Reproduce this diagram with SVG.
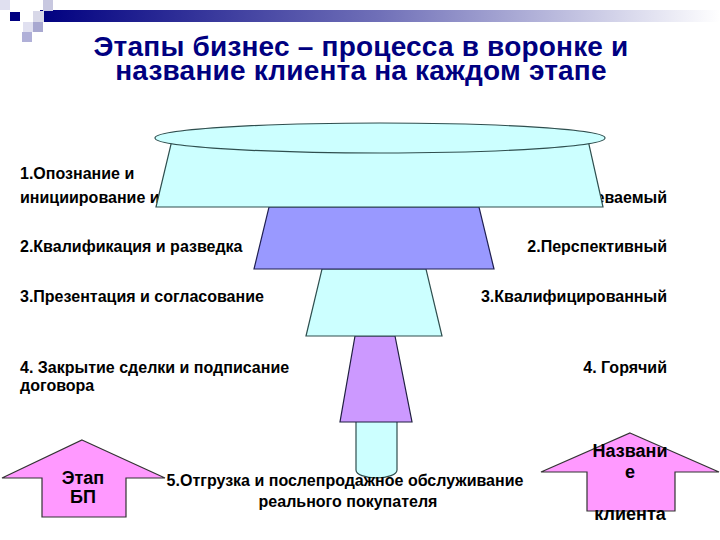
<svg xmlns="http://www.w3.org/2000/svg" width="720" height="540" viewBox="0 0 720 540">
<defs>
<linearGradient id="bar" x1="0" y1="0" x2="1" y2="0">
<stop offset="0" stop-color="#000080"/>
<stop offset="0.5" stop-color="#7070B8"/>
<stop offset="1" stop-color="#FFFFFF"/>
</linearGradient>
<style>
.t{font-family:"Liberation Sans",Arial,sans-serif;font-weight:bold;font-size:16px;fill:#000}
.a{font-size:18px}
.title{font-family:"Liberation Sans",Arial,sans-serif;font-weight:bold;font-size:28px;fill:#000080;text-anchor:middle;letter-spacing:0.2px}
.cy{fill:#CCFFFF;stroke:#2F4F4F;stroke-width:1.2}
.bl{fill:#9999FF;stroke:#1F1F50;stroke-width:1.2}
.lv{fill:#CC99FF;stroke:#1F1F40;stroke-width:1.2}
.ar{fill:#FF99FF;stroke:#333;stroke-width:1.2}
.e{text-anchor:end}
.m{text-anchor:middle}
</style>
</defs>
<rect width="720" height="540" fill="#fff"/>
<g id="header">
<rect x="40" y="10" width="680" height="12" fill="url(#bar)"/>
<rect x="0" y="0" width="10" height="10" fill="#E0E0F0"/>
<rect x="10" y="12" width="10" height="9" fill="#000080"/>
<rect x="43" y="0" width="10" height="11" fill="#C8C8E0"/>
<rect x="33" y="11" width="11" height="11" fill="#D8D8E8"/>
<rect x="23" y="22" width="10" height="10" fill="#E0E0F0"/>
<rect x="33" y="22" width="10" height="10" fill="#A8A8D0"/>
<rect x="22" y="32" width="10" height="10" fill="#B0B0D8"/>
</g>
<g id="title">
<text class="title" x="361" y="56">Этапы бизнес – процесса в воронке  и</text>
<text class="title" x="361" y="80">название клиента на каждом этапе</text>
</g>
<g id="left-labels">
<text class="t" x="20" y="179">1.Опознание и</text>
<text class="t" x="20" y="203">инициирование и</text>
<text class="t" x="20" y="252">2.Квалификация и разведка</text>
<text class="t" x="20" y="302">3.Презентация и согласование</text>
<text class="t" x="20" y="373">4. Закрытие сделки и подписание</text>
<text class="t" x="20" y="391">договора</text>
</g>
<g id="right-labels">
<text class="t e" x="667" y="203">еваемый</text>
<text class="t e" x="667" y="252">2.Перспективный</text>
<text class="t e" x="667" y="302">3.Квалифицированный</text>
<text class="t e" x="667" y="373">4. Горячий</text>
</g>
<g id="funnel">
<path class="cy" d="M356,418 L356,470 A20.5,8 0 0 0 397,470 L397,418"/>
<polygon class="lv" points="355,336 395,336 412,422 340,422"/>
<polygon class="cy" points="322,269 426,269 442,336 306,336"/>
<polygon class="bl" points="269,207 479,207 494,269 254,269"/>
<polygon class="cy" points="172,140 588,140 603,207 156,207"/>
<ellipse class="cy" cx="380" cy="138" rx="225" ry="15"/>
</g>
<g id="stage5">
<text class="t m" x="345" y="486">5.Отгрузка и послепродажное обслуживание</text>
<text class="t m" x="348" y="507">реального покупателя</text>
</g>
<g id="arrow-left">
<polygon class="ar" points="82,440 165,478 126,478 126,517 42,517 42,478 2,478"/>
<text class="t a m" x="83" y="484">Этап</text>
<text class="t a m" x="83" y="503">БП</text>
</g>
<g id="arrow-right">
<polygon class="ar" points="630,433 719,472 675,472 675,511 587,511 587,472 541,472"/>
<text class="t a m" x="630" y="457">Названи</text>
<text class="t a m" x="630" y="478">е</text>
<text class="t a m" x="630" y="520">клиента</text>
</g>
</svg>
